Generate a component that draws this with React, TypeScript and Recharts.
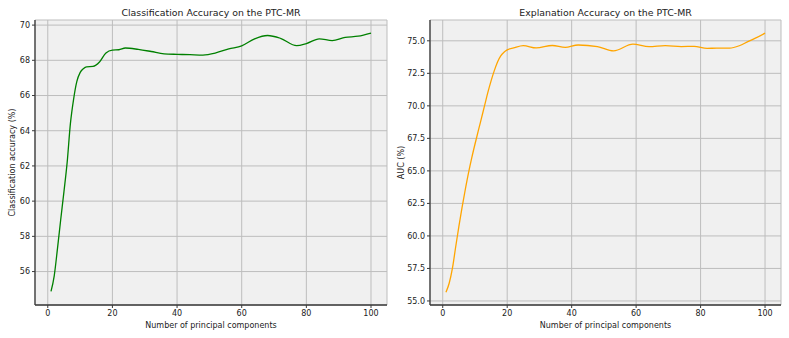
import { LineChart, Line, XAxis, YAxis, CartesianGrid } from 'recharts';

// number of principal components (x) and the values
const accComponents = [1, 2, 3, 4, 5, 6, 7, 8, 9, 10, 11, 12, 14, 16, 18, 20, 22, 24, 28, 32, 36, 40, 44, 48, 52, 56, 60, 64, 68, 72, 77, 80, 84, 88, 92, 96, 100];
const accValues = [54.87, 55.76, 57.3, 58.94, 60.53, 62.2, 64.4, 65.8, 66.8, 67.3, 67.52, 67.63, 67.65, 67.9, 68.42, 68.58, 68.6, 68.7, 68.62, 68.5, 68.37, 68.34, 68.32, 68.3, 68.42, 68.65, 68.82, 69.22, 69.41, 69.25, 68.83, 68.95, 69.22, 69.12, 69.3, 69.37, 69.55];

const aucComponents = [1, 2, 3, 4, 5, 6, 7, 8, 9, 10, 11, 12, 13, 14, 15, 16, 17, 18, 19, 20, 22, 25, 29, 34, 38, 42, 48, 53, 59, 64, 69, 74, 78, 82, 85, 89, 92, 95, 97, 100];
const aucValues = [55.67, 56.36, 57.5, 59.13, 60.72, 62.2, 63.57, 64.85, 66.0, 67.05, 68.05, 69.04, 70.03, 71.03, 71.92, 72.71, 73.38, 73.85, 74.12, 74.3, 74.45, 74.63, 74.45, 74.64, 74.49, 74.68, 74.56, 74.23, 74.74, 74.55, 74.63, 74.56, 74.58, 74.42, 74.44, 74.44, 74.62, 74.98, 75.2, 75.59];

const xTicks = [0, 20, 40, 60, 80, 100];
const accTicks = [56, 58, 60, 62, 64, 66, 68, 70];
const aucTicks = [55, 57.5, 60, 62.5, 65, 67.5, 70, 72.5, 75];

const FONT = '"DejaVu Sans", sans-serif';
const SPINE = '#3a3a3a';
const SMALL = 8;

const YLabel = ({ viewBox, value, dx }: any) => {
  const x = viewBox.x + dx;
  const y = viewBox.y + viewBox.height / 2;
  return (
    <text x={x} y={y} transform={`rotate(-90 ${x} ${y})`} textAnchor="middle" dominantBaseline="middle"
      fontSize={SMALL} fontFamily={FONT} fill="#222">{value}</text>
  );
};

const XLabel = ({ viewBox, value }: any) => (
  <text x={viewBox.x + viewBox.width / 2} y={viewBox.y + 20} textAnchor="middle" dominantBaseline="middle"
    fontSize={SMALL} fontFamily={FONT} fill="#222">{value}</text>
);

interface PanelProps {
  left: number;
  width: number;
  title: string;
  yLabel: string;
  yLabelDx: number;
  xs: number[];
  ys: number[];
  color: string;
  yDomain: [number, number];
  yTicks: number[];
  decimals: number;
}

const Panel = ({ left, width, title, yLabel, yLabelDx, xs, ys, color, yDomain, yTicks, decimals }: PanelProps) => {
  const data = xs.map((x, i) => ({ x, value: ys[i] }));
  const tickStyle = { fontSize: SMALL, fontFamily: FONT, fill: '#222' };
  return (
    <div style={{ position: 'absolute', left, top: 0, width, height: 338 }}>
      <div style={{ position: 'absolute', left: 35, width: width - 43, top: 7, textAlign: 'center', fontSize: 9.4, fontFamily: FONT, color: '#222', lineHeight: '12px' }}>
        {title}
      </div>
      <LineChart width={width} height={338} data={data} margin={{ top: 20, right: 8, bottom: 0, left: 0 }}>
        <CartesianGrid stroke="#bdbdbd" strokeWidth={1} fill="#f0f0f0" fillOpacity={1} />
        <XAxis dataKey="x" type="number" domain={[-3.95, 104.95]} ticks={xTicks} allowDataOverflow
          height={33} tickSize={3} tick={tickStyle} tickLine={{ stroke: SPINE }}
          axisLine={{ stroke: SPINE, strokeWidth: 1.3 }}
          label={<XLabel value="Number of principal components" />} />
        <YAxis type="number" domain={yDomain} ticks={yTicks} allowDataOverflow width={35} tickSize={3}
          tick={tickStyle} tickLine={{ stroke: SPINE }} axisLine={{ stroke: SPINE, strokeWidth: 1.3 }}
          tickFormatter={(v: number) => v.toFixed(decimals)}
          label={<YLabel value={yLabel} dx={yLabelDx} />} />
        <XAxis xAxisId="top" orientation="top" type="number" domain={[0, 1]} height={0} tick={false}
          tickLine={false} axisLine={{ stroke: SPINE, strokeWidth: 1.3 }} />
        <YAxis yAxisId="right" orientation="right" type="number" domain={[0, 1]} width={0} tick={false}
          tickLine={false} axisLine={{ stroke: SPINE, strokeWidth: 1.3 }} />
        <Line type="monotone" dataKey="value" stroke={color} strokeWidth={1.3} dot={false} isAnimationActive={false} />
      </LineChart>
    </div>
  );
};

export default function App() {
  return (
    <div style={{ position: 'absolute', left: 0, top: 0, width: 789, height: 338, background: '#fff', overflow: 'hidden' }}>
      <Panel left={0} width={395} title="Classification Accuracy on the PTC-MR" yLabel="Classification accuracy (%)"
        yLabelDx={12} xs={accComponents} ys={accValues} color="#008000" yDomain={[54.1, 70.29]} yTicks={accTicks} decimals={0} />
      <Panel left={395} width={394} title="Explanation Accuracy on the PTC-MR" yLabel="AUC (%)"
        yLabelDx={6} xs={aucComponents} ys={aucValues} color="#ffa500" yDomain={[54.69, 76.6]} yTicks={aucTicks} decimals={1} />
    </div>
  );
}
